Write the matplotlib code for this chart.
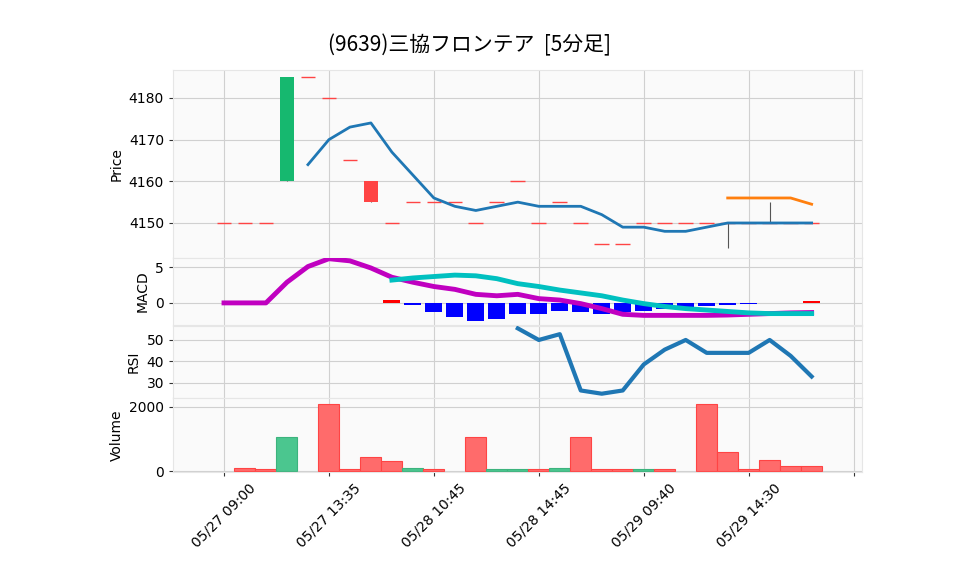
import numpy as np
import matplotlib.pyplot as plt

plt.rcParams['font.family'] = ['DejaVu Sans', 'Noto Sans CJK JP']

# candles (index 0..28)
opens = [4150, 4150, 4150, 4160, 4185, 4180, 4165, 4160, 4150, 4155, 4155, 4155, 4150, 4155, 4160,
         4150, 4155, 4150, 4145, 4145, 4150, 4150, 4150, 4150, 4150, 4150, 4150, 4150, 4150]
closes = [4150, 4150, 4150, 4185, 4185, 4180, 4165, 4155, 4150, 4155, 4155, 4155, 4150, 4155, 4160,
          4150, 4155, 4150, 4145, 4145, 4150, 4150, 4150, 4150, 4150, 4150, 4150, 4150, 4150]
highs = list(np.maximum(opens, closes))
lows = list(np.minimum(opens, closes))
lows[24] = 4144
highs[26] = 4155
up_idx = [3]

ma_fast = [4164, 4170, 4173, 4174, 4167, 4161.5, 4156, 4154, 4153, 4154, 4155, 4154, 4154, 4154,
           4152, 4149, 4149, 4148, 4148, 4149, 4150, 4150, 4150, 4150, 4150]   # from index 4
ma_slow = [4156, 4156, 4156, 4156, 4154.5]   # from index 24

macd = [0, 0, 0, 2.9, 5.1, 6.2, 5.9, 4.9, 3.6, 2.9, 2.3, 1.9, 1.2, 1.0, 1.2, 0.6, 0.4, -0.1, -0.8,
        -1.6, -1.75, -1.75, -1.75, -1.75, -1.7, -1.6, -1.5, -1.4, -1.35]
signal = [3.2, 3.5, 3.7, 3.9, 3.8, 3.4, 2.7, 2.3, 1.8, 1.4, 1.0, 0.4, -0.1, -0.5, -0.8, -1.0,
          -1.2, -1.4, -1.5, -1.5, -1.5]   # from index 8
hist = [0.4, -0.35, -1.3, -2.0, -2.6, -2.3, -1.6, -1.6, -1.2, -1.3, -1.5, -1.3, -1.2, -0.9, -0.6,
        -0.5, -0.3, -0.1, 0.05, 0.05, 0.2]   # from index 8

rsi = [55.4, 50, 52.7, 26.5, 25, 26.5, 38.6, 45.5, 50, 44, 44, 44, 50, 42.6, 33]   # from index 14

volume = [0, 100, 50, 1050, 0, 2100, 50, 450, 300, 100, 50, 0, 1050, 50, 50, 50, 100, 1050, 50, 50,
          50, 50, 0, 2100, 600, 50, 350, 150, 150]
vol_up = [3, 9, 13, 14, 16, 20]

tick_pos = [0, 5, 10, 15, 20, 25, 30]
tick_labels = ['05/27 09:00', '05/27 13:35', '05/28 10:45', '05/28 14:45', '05/29 09:40',
               '05/29 14:30', '']

GREEN = '#16b86f'
RED = '#ff4444'

fig = plt.figure(figsize=(9.58, 5.75), dpi=100)
W, H = 958, 575
left, right = 173 / W, 862 / W
def rect(top, bot):
    return [left, 1 - bot / H, right - left, (bot - top) / H]

ax_p = fig.add_axes(rect(70, 258))
ax_m = fig.add_axes(rect(258, 325), sharex=ax_p)
ax_r = fig.add_axes(rect(326, 398), sharex=ax_p)
ax_v = fig.add_axes(rect(398, 472), sharex=ax_p)

n = len(opens)
x = np.arange(n)
for ax in (ax_p, ax_m, ax_r, ax_v):
    ax.set_facecolor('#fafafa')
    ax.grid(True, color='#d0d0d0', linewidth=0.8)
    ax.set_axisbelow(True)
    for s in ax.spines.values():
        s.set_color('#e6e6e6')
    ax.tick_params(labelsize=10, length=3, color='#333333')

# price
for i in range(n):
    c = GREEN if i in up_idx else RED
    if highs[i] != lows[i]:
        ax_p.vlines(i, lows[i], highs[i], color='#555555', linewidth=0.8, zorder=2)
    body = abs(closes[i] - opens[i])
    if body > 0:
        ax_p.bar(i, body, bottom=min(opens[i], closes[i]), width=0.7, color=c, zorder=3)
    else:
        ax_p.hlines(opens[i], i - 0.35, i + 0.35, color=c, linewidth=1, zorder=3)
ax_p.plot(x[4:], ma_fast, color='#1f77b4', linewidth=2, zorder=4)
ax_p.plot(x[24:], ma_slow, color='#ff7f0e', linewidth=2, zorder=4)
ax_p.set_ylim(4141.6, 4186.7)
ax_p.set_yticks([4150, 4160, 4170, 4180])
ax_p.set_ylabel('Price', fontsize=10)

# macd
hc = ['#ff0000' if h > 0 else '#0000ff' for h in hist]
ax_m.bar(x[8:], hist, width=0.8, color=hc, zorder=2)
ax_m.plot(x, macd, color='#c000c0', linewidth=3.5, zorder=3)
ax_m.plot(x[8:], signal, color='#00c0c0', linewidth=3.5, zorder=3)
ax_m.set_ylim(-3.1, 6.3)
ax_m.set_yticks([0, 5])
ax_m.set_ylabel('MACD', fontsize=10)

# rsi
ax_r.plot(x[14:], rsi, color='#1f77b4', linewidth=3, zorder=3)
ax_r.set_ylim(23, 56.5)
ax_r.set_yticks([30, 40, 50])
ax_r.set_ylabel('RSI', fontsize=10)

# volume
vc = ['#4bc68f' if i in vol_up else '#ff6b6b' for i in range(n)]
ec = ['#3cb37d' if i in vol_up else '#ff4444' for i in range(n)]
lw = [0.8 if v > 0 else 0 for v in volume]
ax_v.bar(x, volume, width=1.0, color=vc, edgecolor=ec, linewidth=lw, zorder=2)
ax_v.set_ylim(-30, 2280)
ax_v.set_yticks([0, 2000])
ax_v.set_ylabel('Volume', fontsize=10)

ax_p.set_xlim(-2.43, 30.4)
ax_v.set_xticks(tick_pos)
ax_v.set_xticklabels(tick_labels, rotation=45, ha='center')
for ax in (ax_p, ax_m, ax_r):
    ax.tick_params(labelbottom=False, bottom=False)

fig.text(0.49, 1 - 45 / H, '(9639)三協フロンテア  [5分足]', ha='center', va='center',
         fontsize=15, fontfamily='Noto Sans CJK JP')

fig.savefig('out.png', dpi=100)
